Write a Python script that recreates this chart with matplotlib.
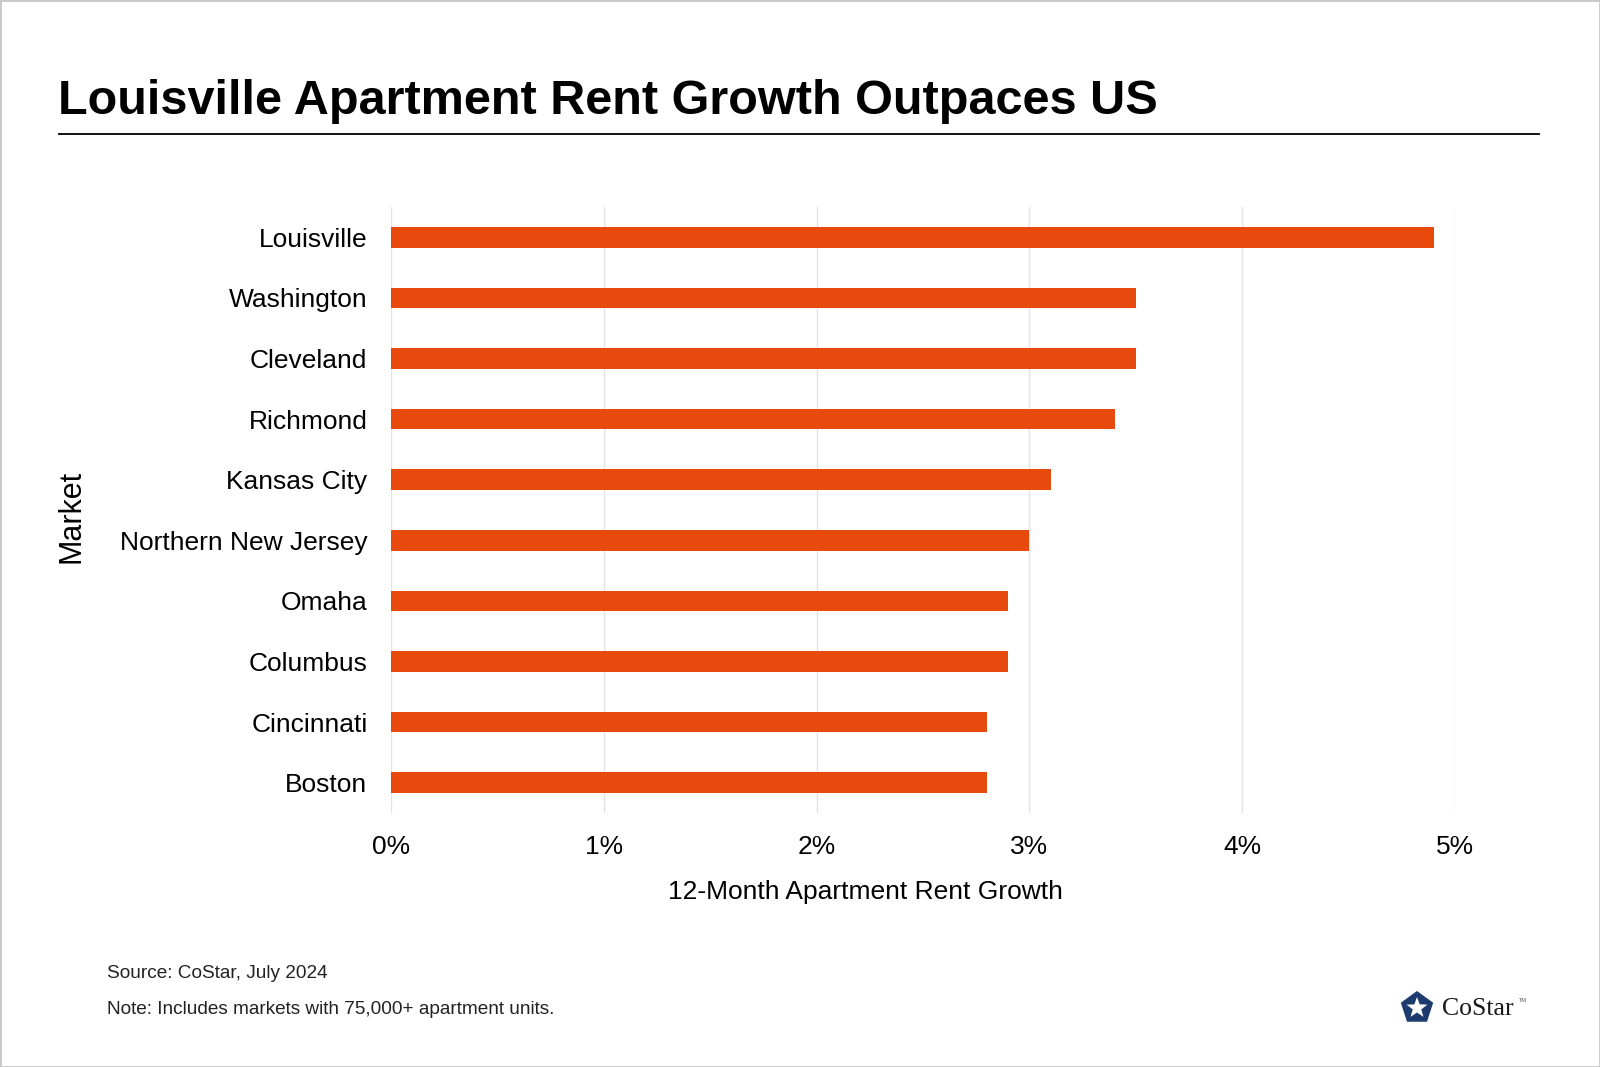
import numpy as np
import matplotlib.pyplot as plt
from matplotlib.patches import Polygon, Rectangle
from matplotlib.lines import Line2D

# Data (12-month rent growth, %)
markets = ['Louisville', 'Washington', 'Cleveland', 'Richmond', 'Kansas City',
           'Northern New Jersey', 'Omaha', 'Columbus', 'Cincinnati', 'Boston']
growth = [4.9, 3.5, 3.5, 3.4, 3.1, 3.0, 2.9, 2.9, 2.8, 2.8]
xticks = [0, 1, 2, 3, 4, 5]
xtick_labels = ['0%', '1%', '2%', '3%', '4%', '5%']

plt.rcParams['font.family'] = ['Liberation Sans', 'DejaVu Sans']

fig = plt.figure(figsize=(16, 10.67), dpi=100)
W, H = 1600, 1067

# Axes placed to match the reference
ax = fig.add_axes([391 / W, 1 - 813 / H, (1455 - 391) / W, (813 - 207) / H])

y = np.arange(len(markets))
ax.barh(y, growth, height=0.34, color='#E8490C', zorder=3)
ax.set_ylim(len(markets) - 0.5, -0.5)
ax.set_xlim(0, 5)
ax.set_yticks(y)
ax.set_yticklabels(markets, fontsize=19)
ax.set_xticks(xticks)
ax.set_xticklabels(xtick_labels, fontsize=19)
ax.tick_params(axis='both', length=0)
ax.tick_params(axis='y', pad=17)
ax.tick_params(axis='x', pad=16)
ax.grid(axis='x', color='#e2e2e2', linewidth=1.0, zorder=0)
for s in ax.spines.values():
    s.set_visible(False)

# Axis titles
fig.text(865 / W, 1 - 892 / H, '12-Month Apartment Rent Growth', fontsize=19,
         ha='center', va='center')
fig.text(71 / W, 1 - 516 / H, 'Market', rotation=90, fontsize=22,
         ha='center', va='center')

# Title and rule
fig.text(58 / W, 1 - 101 / H, 'Louisville Apartment Rent Growth Outpaces US',
         fontsize=35, fontweight='bold', ha='left', va='center')
fig.add_artist(Line2D([59 / W, 1539 / W], [1 - 134 / H, 1 - 134 / H],
                      color='black', linewidth=1.3))

# Footnotes
fig.text(107 / W, 1 - 974 / H, 'Source: CoStar, July 2024', fontsize=13.7,
         ha='left', va='center', color='#222222')
fig.text(107 / W, 1 - 1009 / H, 'Note: Includes markets with 75,000+ apartment units.',
         fontsize=13.7, ha='left', va='center', color='#222222')

# Rough CoStar logo: navy pentagon with white star
cx, cy, r = 1417 / W, 1 - 1008 / H, 17
ang = np.deg2rad(90 + np.arange(5) * 72)
pent = [(cx + r * np.cos(a) / W, cy + r * np.sin(a) / H) for a in ang]
fig.add_artist(Polygon(pent, closed=True, facecolor='#1d3b6f', edgecolor='none'))
star = []
for i in range(10):
    a = np.deg2rad(90 + i * 36)
    rr = 11 if i % 2 == 0 else 4.5
    star.append((cx + rr * np.cos(a) / W, cy + rr * np.sin(a) / H))
fig.add_artist(Polygon(star, closed=True, facecolor='white', edgecolor='none'))
fig.text(1442 / W, 1 - 1009 / H, 'CoStar', fontsize=18.5, family='Liberation Serif',
         ha='left', va='center', color='#1a1a1a')
fig.text(1519 / W, 1 - 1001 / H, 'TM', fontsize=4, ha='left', va='center',
         color='#555555')

# Thin border around the image
fig.add_artist(Rectangle((0, 0), 1, 1, transform=fig.transFigure, fill=False,
                         edgecolor='#c8c8c8', linewidth=2))

fig.savefig('out.png', dpi=100)
